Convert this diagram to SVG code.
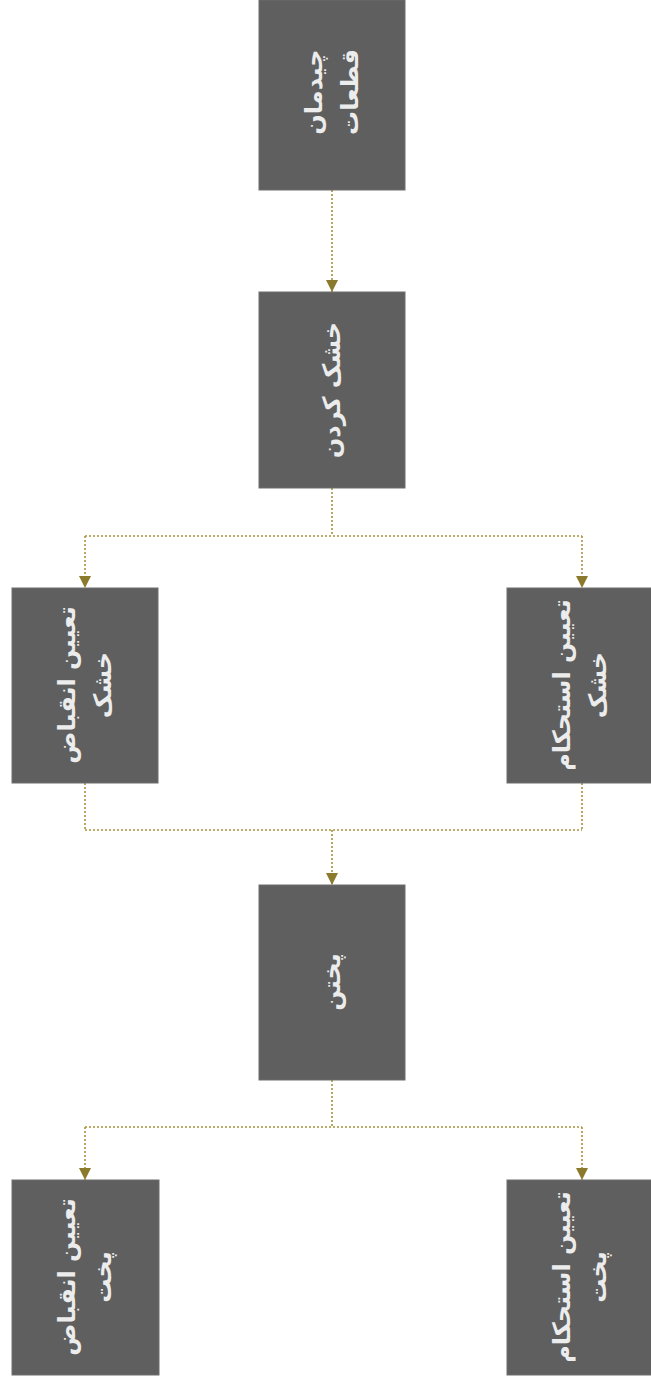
<svg xmlns="http://www.w3.org/2000/svg" width="651" height="1384" viewBox="0 0 651 1384">
<style>
.box{fill:#5f5f5f;stroke:#6e6e6e;stroke-width:1}
.lbl{font-family:"DejaVu Sans",sans-serif;font-weight:bold;font-size:24px;fill:#ececec;text-anchor:middle;direction:rtl}
.con{fill:none;stroke:#a8923c;stroke-width:1.6;stroke-dasharray:2 2}
</style>
<defs>
<marker id="ah" markerWidth="12" markerHeight="12" refX="6" refY="12" orient="0" markerUnits="userSpaceOnUse">
<path d="M0,0 L12,0 L6,12 Z" fill="#8c7a2c"/>
</marker>
</defs>
<rect width="651" height="1384" fill="#ffffff"/>
<g id="connectors">
<path class="con" d="M332,190 V292" marker-end="url(#ah)"/>
<path class="con" d="M332,488 V536"/>
<path class="con" d="M85,536 H582"/>
<path class="con" d="M85,536 V588" marker-end="url(#ah)"/>
<path class="con" d="M582,536 V588" marker-end="url(#ah)"/>
<path class="con" d="M85,783 V830"/>
<path class="con" d="M582,783 V830"/>
<path class="con" d="M85,830 H582"/>
<path class="con" d="M332,830 V885" marker-end="url(#ah)"/>
<path class="con" d="M332,1080 V1127"/>
<path class="con" d="M85,1127 H582"/>
<path class="con" d="M85,1127 V1180" marker-end="url(#ah)"/>
<path class="con" d="M582,1127 V1180" marker-end="url(#ah)"/>
</g>
<g id="n1">
<rect class="box" x="259" y="0" width="146" height="190"/>
<g transform="translate(332,92) rotate(-90)">
<text class="lbl" x="0" y="-10">چیدمان</text>
<text class="lbl" x="0" y="26">قطعات</text>
</g>
</g>
<g id="n2">
<rect class="box" x="259" y="292" width="146" height="196"/>
<g transform="translate(332,390) rotate(-90)">
<text class="lbl" x="0" y="8">خشک کردن</text>
</g>
</g>
<g id="n3">
<rect class="box" x="12" y="588" width="146" height="195"/>
<g transform="translate(85,685) rotate(-90)">
<text class="lbl" x="0" y="-10">تعیین انقباض</text>
<text class="lbl" x="0" y="26">خشک</text>
</g>
</g>
<g id="n4">
<rect class="box" x="507" y="588" width="146" height="195"/>
<g transform="translate(580,685) rotate(-90)">
<text class="lbl" x="0" y="-10">تعیین استحکام</text>
<text class="lbl" x="0" y="26">خشک</text>
</g>
</g>
<g id="n5">
<rect class="box" x="259" y="885" width="146" height="195"/>
<g transform="translate(332,982) rotate(-90)">
<text class="lbl" x="0" y="8">پختن</text>
</g>
</g>
<g id="n6">
<rect class="box" x="12" y="1180" width="147" height="195"/>
<g transform="translate(85,1277) rotate(-90)">
<text class="lbl" x="0" y="-10">تعیین انقباض</text>
<text class="lbl" x="0" y="26">پخت</text>
</g>
</g>
<g id="n7">
<rect class="box" x="507" y="1180" width="146" height="195"/>
<g transform="translate(580,1277) rotate(-90)">
<text class="lbl" x="0" y="-10">تعیین استحکام</text>
<text class="lbl" x="0" y="26">پخت</text>
</g>
</g>
</svg>
